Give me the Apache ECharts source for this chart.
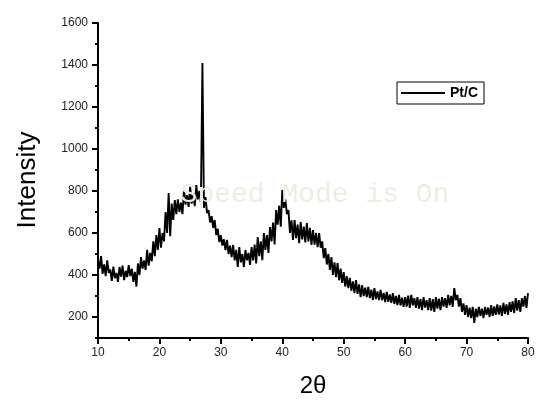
<!DOCTYPE html>
<html>
<head>
<meta charset="utf-8">
<script src="https://cdn.jsdelivr.net/npm/echarts@6/dist/echarts.min.js"></script>
<style>html,body{margin:0;padding:0;background:#fff}#c{width:559px;height:400px}</style>
</head>
<body>
<div id="c"></div>
<script>
// Intensity every 0.25° of 2θ, from 10° to 80°
// (values alternate between the top and bottom of the noisy band)
var startAngle = 10;
var angleStep = 0.25;
var intensity = [
  470,430,490,405, 450,395,470,410, 425,372,440,385, 410,367,438,392, 445,376,420,390,
  447,395,430,367, 415,345,455,400, 485,430,470,424, 520,445,505,465, 560,490,590,520,
  624,530,600,560, 700,600,790,585, 740,662,757,690, 760,700,745,690, 805,735,780,724,
  820,740,790,728, 828,760,800,745, 1410,720,771,695, 709,650,680,624, 662,590,620,557,
  590,540,570,519, 567,500,540,485, 543,470,520,438, 533,460,500,438, 519,470,505,448,
  533,470,545,455, 581,490,560,471, 600,520,590,505, 628,560,650,545, 709,640,730,630,
  805,720,760,690, 709,600,660,567, 662,575,640,552, 652,570,630,555, 647,560,625,543,
  614,545,600,533, 600,530,560,480, 528,450,500,424, 485,400,460,390, 457,375,430,362,
  414,345,395,338, 386,325,370,314, 376,310,355,295, 352,300,340,295, 343,290,330,281,
  338,285,322,281, 329,280,315,271, 319,272,308,267, 314,262,300,257, 305,255,292,248,
  295,250,302,243, 305,255,290,243, 295,240,285,233, 295,245,280,233, 290,230,285,224,
  295,240,288,233, 295,250,290,243, 305,255,300,248, 338,280,305,250, 290,225,265,210,
  257,200,245,195, 248,172,240,200, 248,205,240,195, 248,210,245,200, 257,205,250,210,
  260,212,255,205, 267,215,260,210, 271,225,275,219, 290,230,280,224, 290,250,300,243,
  314
];
var seriesName = 'Pt/C';
var xTicks = [10,20,30,40,50,60,70,80];
var yTicks = [200,400,600,800,1000,1200,1400,1600];

var data = intensity.map(function(v,i){return [startAngle + i*angleStep, v];});
var chart = echarts.init(document.getElementById('c'), null, {renderer:'canvas'});
var labelFont = {fontFamily:'Liberation Sans, Arial, sans-serif', fontSize:12, color:'#222'};
function plain(v){return String(v);}
chart.setOption({
  animation:false,
  backgroundColor:'#fff',
  grid:{left:98, right:31, top:23, bottom:62, containLabel:false},
  legend:{
    data:[seriesName], left:397, top:82, orient:'horizontal',
    borderColor:'#000', borderWidth:1, padding:[4,6,4,4],
    icon:'rect', itemWidth:44, itemHeight:2, itemGap:0,
    itemStyle:{color:'#000'},
    textStyle:{fontFamily:'Liberation Sans, Arial, sans-serif', fontSize:14, fontWeight:'bold', color:'#000'}
  },
  xAxis:{
    type:'value', min:10, max:80, interval:10,
    axisLine:{show:true, onZero:false, lineStyle:{color:'#000', width:2}},
    axisTick:{show:true, inside:false, length:6, lineStyle:{color:'#000', width:2}},
    minorTick:{show:true, splitNumber:2, length:3, lineStyle:{color:'#000', width:2}},
    splitLine:{show:false},
    axisLabel:Object.assign({margin:9, customValues:xTicks, formatter:plain}, labelFont)
  },
  yAxis:[{
    type:'value', min:100, max:1600,
    axisLine:{show:true, onZero:false, lineStyle:{color:'#000', width:2}},
    axisTick:{show:true, inside:false, length:6, customValues:yTicks, lineStyle:{color:'#000', width:2}},
    splitLine:{show:false},
    axisLabel:Object.assign({margin:10, customValues:yTicks, formatter:plain}, labelFont)
  },{
    type:'value', min:100, max:1600, interval:100, position:'left',
    axisLine:{show:false},
    axisTick:{show:true, inside:false, length:3, lineStyle:{color:'#000', width:2}},
    splitLine:{show:false},
    axisLabel:{show:false}
  }],
  series:[{
    name:seriesName, type:'line', data:data, yAxisIndex:0,
    showSymbol:false, symbol:'none',
    lineStyle:{color:'#000', width:1.9},
    itemStyle:{color:'#000'}
  }],
  graphic:[
    {type:'text', x:28, y:180, rotation:Math.PI/2, z:10,
      style:{text:'Intensity', font:'26px "Liberation Sans", Arial, sans-serif', fill:'#000', textAlign:'center', textVerticalAlign:'middle'}},
    {type:'text', x:313, y:386, z:10,
      style:{text:'2θ', font:'24px "Liberation Sans", Arial, sans-serif', fill:'#000', textAlign:'center', textVerticalAlign:'middle'}},
    {type:'text', x:315, y:195, z:100,
      style:{text:'Speed Mode is On', font:'28px "Liberation Mono", "Courier New", monospace', fill:'#efede0', textAlign:'center', textVerticalAlign:'middle'}}
  ]
});
</script>
</body>
</html>
